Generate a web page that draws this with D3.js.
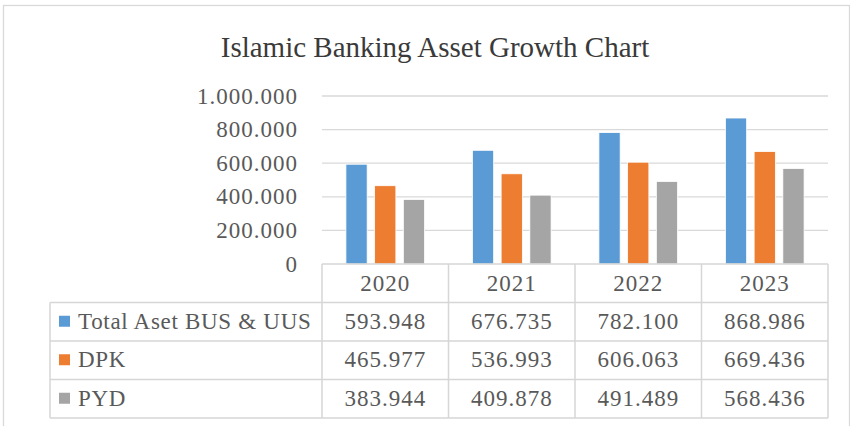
<!DOCTYPE html>
<html>
<head>
<meta charset="utf-8">
<script src="https://cdn.jsdelivr.net/npm/d3@7"></script>
<style>
  body { margin: 0; background: #fff; }
  text { font-family: "Liberation Serif", serif; fill: #595959; }
</style>
</head>
<body>
<svg id="chart" width="850" height="426"></svg>
<script>
const years = ["2020", "2021", "2022", "2023"];
const seriesNames = ["Total Aset BUS & UUS", "DPK", "PYD"];
const totalAset = [593948, 676735, 782100, 868986];
const dpk = [465977, 536993, 606063, 669436];
const pyd = [383944, 409878, 491489, 568436];
const yTicks = [0, 200000, 400000, 600000, 800000, 1000000];
const colors = ["#5b9bd5", "#ed7d31", "#a5a5a5"];

const seriesValues = [totalAset, dpk, pyd];

const plot = { left: 322, right: 828, top: 96, bottom: 264 },
  tableLeft = 50,
  rowH = 38.5;

const svg = d3.select("#chart");

// outer chart border
svg.append("rect")
  .attr("x", 3.5).attr("y", 5.5)
  .attr("width", 846).attr("height", 430)
  .attr("fill", "none")
  .attr("stroke", "#d9d9d9")
  .attr("stroke-width", 1.3);

svg.append("text")
  .attr("x", 435).attr("y", 57)
  .attr("text-anchor", "middle")
  .style("font-size", "29px")
  .style("fill", "#3a3a3a")
  .text("Islamic Banking Asset Growth Chart");

const locale = d3.formatLocale({ decimal: ",", thousands: ".", grouping: [3], currency: ["", ""] });
const fmt = locale.format(",d");

const x = d3.scaleBand()
  .domain(years)
  .range([plot.left, plot.right]);

const bw = x.bandwidth();
const x1 = d3.scaleBand()
  .domain(seriesNames)
  .range([bw * 0.189, bw * 0.811])
  .paddingInner(0.26);

const y = d3.scaleLinear()
  .domain([0, 1000000])
  .range([plot.bottom, plot.top]);

// gridlines
svg.append("g")
  .selectAll("line")
  .data(yTicks.slice(1))
  .enter()
  .append("line")
  .attr("x1", plot.left).attr("x2", plot.right)
  .attr("y1", d => y(d)).attr("y2", d => y(d))
  .attr("stroke", "#d9d9d9")
  .attr("stroke-width", 1.3);

// y axis labels
const yAxis = svg.append("g")
  .attr("transform", `translate(${plot.left},0)`)
  .call(d3.axisLeft(y).tickValues(yTicks).tickFormat(fmt).tickSize(0).tickPadding(24));
yAxis.select(".domain").remove();
yAxis.attr("font-family", null);
yAxis.selectAll("text")
  .style("font-size", "23px")
  .style("letter-spacing", "1px")
  .style("fill", "#595959")
  .attr("dy", "7px");

// bars
const data = [];
years.forEach((yr, i) => {
  seriesNames.forEach((s, j) => {
    data.push({ year: yr, series: s, value: seriesValues[j][i], idx: j });
  });
});

svg.append("g")
  .selectAll("rect")
  .data(data)
  .enter()
  .append("rect")
  .attr("x", d => x(d.year) + x1(d.series))
  .attr("y", d => y(d.value))
  .attr("width", x1.bandwidth())
  .attr("height", d => y(0) - y(d.value))
  .attr("fill", d => colors[d.idx])
  .attr("stroke", "#fff")
  .attr("stroke-width", 0.8);

// data table
const table = svg.append("g");
const lineColor = "#d6d6d6";
const tBottom = plot.bottom + rowH * 4;

// horizontal lines
table.append("line")
  .attr("x1", plot.left).attr("x2", plot.right)
  .attr("y1", plot.bottom).attr("y2", plot.bottom)
  .attr("stroke", lineColor).attr("stroke-width", 1.5);
[1, 2, 3, 4].forEach(r => {
  table.append("line")
    .attr("x1", tableLeft).attr("x2", plot.right)
    .attr("y1", plot.bottom + rowH * r).attr("y2", plot.bottom + rowH * r)
    .attr("stroke", lineColor).attr("stroke-width", 1.5);
});

// vertical lines
table.append("line")
  .attr("x1", tableLeft).attr("x2", tableLeft)
  .attr("y1", plot.bottom + rowH).attr("y2", tBottom)
  .attr("stroke", lineColor).attr("stroke-width", 1.5);
years.concat(["end"]).forEach((yr, i) => {
  const xx = i < years.length ? x(yr) : plot.right;
  table.append("line")
    .attr("x1", xx).attr("x2", xx)
    .attr("y1", plot.bottom).attr("y2", tBottom)
    .attr("stroke", lineColor).attr("stroke-width", 1.5);
});

// year headers
table.selectAll(".yr")
  .data(years)
  .enter()
  .append("text")
  .attr("class", "yr")
  .attr("x", d => x(d) + bw / 2)
  .attr("y", plot.bottom + rowH / 2 + 8)
  .attr("text-anchor", "middle")
  .style("font-size", "23px")
  .style("letter-spacing", "1px")
  .text(d => d);

// series rows
seriesNames.forEach((s, j) => {
  const rowTop = plot.bottom + rowH * (j + 1);
  table.append("rect")
    .attr("x", 59).attr("y", rowTop + rowH / 2 - 6)
    .attr("width", 11).attr("height", 11)
    .attr("fill", colors[j]);
  table.append("text")
    .attr("x", 78)
    .attr("y", rowTop + rowH / 2 + 7)
    .style("font-size", "23px")
    .style("letter-spacing", "0.7px")
    .text(s);
  table.selectAll(".v" + j)
    .data(seriesValues[j])
    .enter()
    .append("text")
    .attr("x", (d, i) => x(years[i]) + bw / 2)
    .attr("y", rowTop + rowH / 2 + 7)
    .attr("text-anchor", "middle")
    .style("font-size", "23px")
    .style("letter-spacing", "1px")
    .text(d => fmt(d));
});
</script>
</body>
</html>
